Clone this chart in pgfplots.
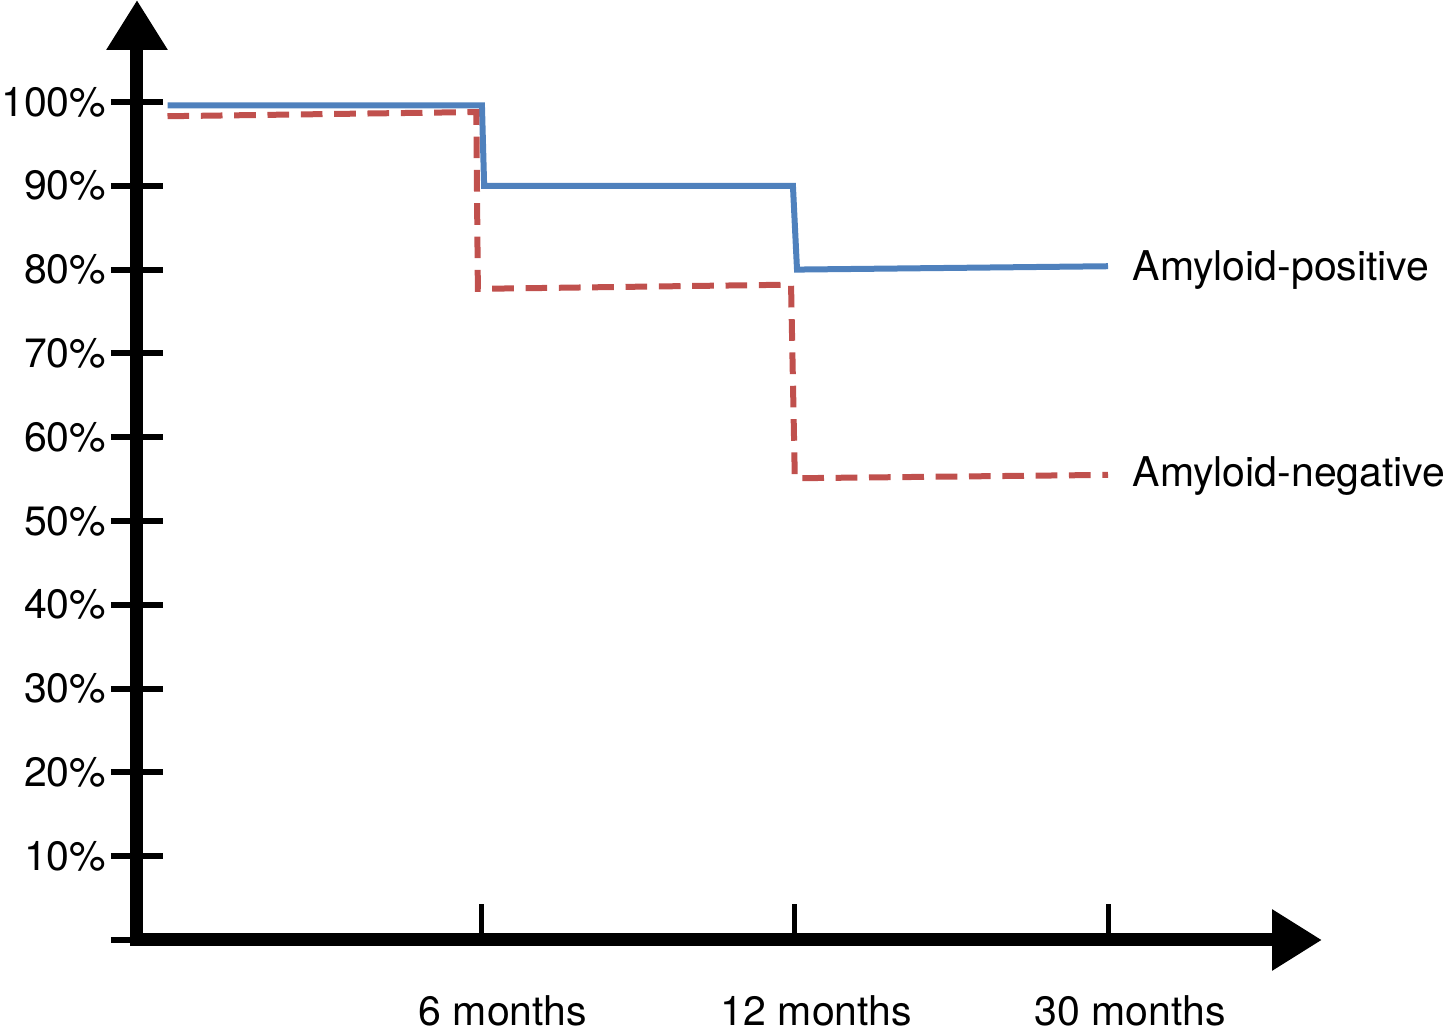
\documentclass[border=0pt]{standalone}
\usepackage{fontspec}
\setmainfont{TeX Gyre Heros}
\usepackage{pgfplots}
\pgfplotsset{compat=1.18}
\usetikzlibrary{arrows.meta}

\definecolor{posblue}{RGB}{79,129,189}
\definecolor{negred}{RGB}{192,80,77}

\begin{document}
\begin{tikzpicture}
% 1 px of the reference = 0.3pt
\useasboundingbox (-41.1pt,-28.5pt) rectangle (393.6pt,282pt);
\begin{axis}[
    at={(0,0)}, anchor=south west,
    scale only axis,
    width=355.5pt, height=282pt,
    xmin=-0.0973, xmax=3.6826,
    ymin=0, ymax=112.17,
    axis lines=left,
    axis line style={line width=3.9pt, line cap=rect, -{Triangle[length=15pt, width=17.4pt]}},
    clip=false,
    font=\fontsize{12.3}{14}\selectfont,
    xtick={1,2,3},
    xticklabels={6 months, 12 months, 30 months},
    xtick align=inside,
    xtick style={line width=1.5pt, black, /pgfplots/major tick length=10.8pt},
    xticklabel style={anchor=north, inner sep=0pt, xshift=6.6pt, yshift=-16.5pt},
    ytick={0,10,...,100},
    yticklabels={,10\%,20\%,30\%,40\%,50\%,60\%,70\%,80\%,90\%,100\%},
    ytick align=center,
    ytick style={line width=1.8pt, black, /pgfplots/major tick length=15.6pt},
    yticklabel style={anchor=east, inner sep=0pt, xshift=-6.9pt},
]
% Amyloid-positive
\addplot[posblue, line width=1.8pt, line join=miter] coordinates {
(0,99.6) (1.003,99.6) (1.01,90) (1.995,90) (2.008,80) (3,80.4)
};
% Amyloid-negative
\addplot[negred, line width=1.8pt, dash pattern=on 6.5pt off 3.5pt] coordinates {
(0,98.3) (0.985,98.8) (0.99,77.7) (1.989,78.2) (2.001,55.1) (3,55.5)
};
\node[anchor=west, inner sep=0pt] at (axis cs:3.077,79.9) {Amyloid-positive};
\node[anchor=west, inner sep=0pt] at (axis cs:3.077,55.4) {Amyloid-negative};
\end{axis}
\end{tikzpicture}
\end{document}
